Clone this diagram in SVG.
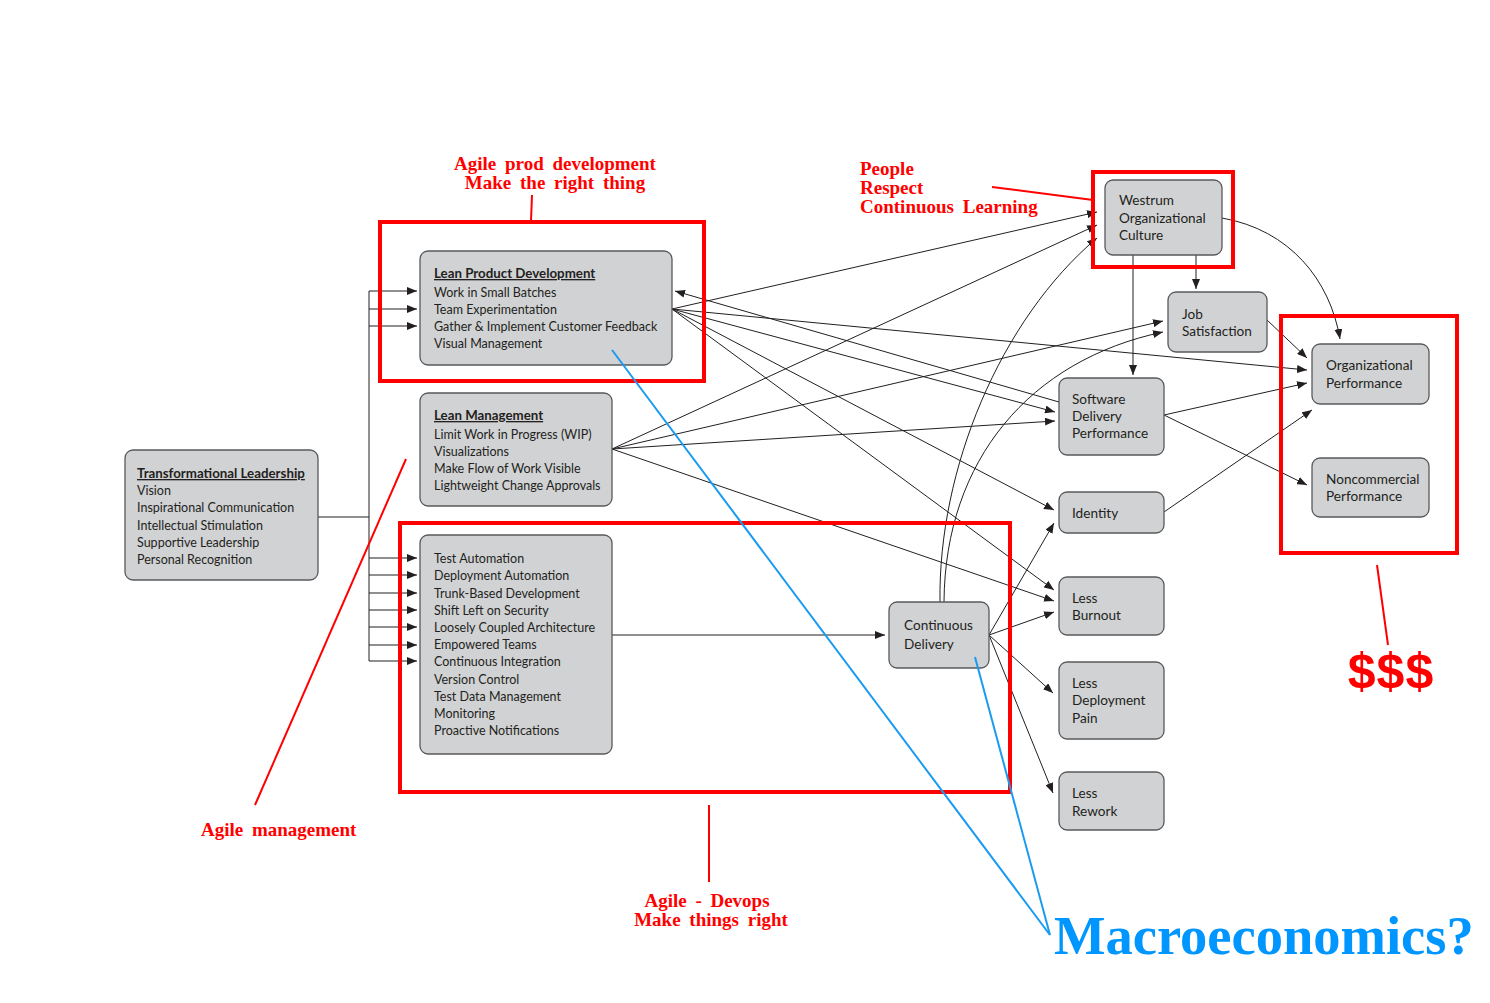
<svg xmlns="http://www.w3.org/2000/svg" width="1490" height="1003" viewBox="0 0 1490 1003">
<style>
.node rect{fill:#d1d2d4;stroke:#58595b;stroke-width:1.3}
.node text{font-family:Lato,"Open Sans",sans-serif;fill:#231f20}
.list{font-size:12.5px}
.ttl{font-size:13.3px;font-weight:bold;text-decoration:underline}
.big{font-size:13.6px}
.conn line,.conn path,.conn polyline{stroke:#231f20;stroke-width:1;fill:none}
.red{stroke:#ff0000;fill:none}
.rtxt{font-family:"Liberation Serif",serif;font-weight:bold;font-size:19px;fill:#ff0000;word-spacing:4px}
.blue{stroke:#1a9bf0;stroke-width:2;fill:none}
</style>
<defs>
<marker id="ah" markerUnits="userSpaceOnUse" markerWidth="10" markerHeight="8" refX="10" refY="4" orient="auto">
<path d="M0,0 L10,4 L0,8 z" fill="#231f20"/>
</marker>
</defs>
<rect width="1490" height="1003" fill="#ffffff"/>

<g id="connectors" class="conn">
<polyline points="318,517 369,517"/>
<line x1="369" y1="291" x2="369" y2="661"/>
<line x1="369" y1="291" x2="417" y2="291" marker-end="url(#ah)"/>
<line x1="369" y1="309" x2="417" y2="309" marker-end="url(#ah)"/>
<line x1="369" y1="326" x2="417" y2="326" marker-end="url(#ah)"/>
<line x1="369" y1="558" x2="417" y2="558" marker-end="url(#ah)"/>
<line x1="369" y1="575" x2="417" y2="575" marker-end="url(#ah)"/>
<line x1="369" y1="593" x2="417" y2="593" marker-end="url(#ah)"/>
<line x1="369" y1="610" x2="417" y2="610" marker-end="url(#ah)"/>
<line x1="369" y1="627" x2="417" y2="627" marker-end="url(#ah)"/>
<line x1="369" y1="645" x2="417" y2="645" marker-end="url(#ah)"/>
<line x1="369" y1="661" x2="417" y2="661" marker-end="url(#ah)"/>
<!-- Lean Product Development -->
<line x1="672" y1="309" x2="1097" y2="212" marker-end="url(#ah)"/>
<line x1="672" y1="309" x2="1307" y2="370" marker-end="url(#ah)"/>
<line x1="672" y1="309" x2="1055" y2="412" marker-end="url(#ah)"/>
<line x1="672" y1="309" x2="1054" y2="510" marker-end="url(#ah)"/>
<line x1="672" y1="309" x2="1054" y2="590" marker-end="url(#ah)"/>
<line x1="1059" y1="402" x2="675" y2="291" marker-end="url(#ah)"/>
<!-- Lean Management -->
<line x1="612" y1="449" x2="1097" y2="225" marker-end="url(#ah)"/>
<line x1="612" y1="449" x2="1163" y2="321" marker-end="url(#ah)"/>
<line x1="612" y1="449" x2="1055" y2="421" marker-end="url(#ah)"/>
<line x1="612" y1="449" x2="1054" y2="601" marker-end="url(#ah)"/>
<!-- CD practices -->
<line x1="612" y1="635" x2="885" y2="635" marker-end="url(#ah)"/>
<!-- Continuous Delivery -->
<path d="M940,602 C938,470 1000,320 1097,238" marker-end="url(#ah)"/>
<path d="M944,602 C945,460 1030,360 1163,332" marker-end="url(#ah)"/>
<line x1="989" y1="635" x2="1054" y2="523" marker-end="url(#ah)"/>
<line x1="989" y1="635" x2="1054" y2="612" marker-end="url(#ah)"/>
<line x1="989" y1="635" x2="1053" y2="693" marker-end="url(#ah)"/>
<line x1="989" y1="635" x2="1053" y2="793" marker-end="url(#ah)"/>
<!-- Westrum -->
<line x1="1133" y1="255" x2="1133" y2="375" marker-end="url(#ah)"/>
<line x1="1196" y1="255" x2="1196" y2="289" marker-end="url(#ah)"/>
<path d="M1222,218 C1290,230 1330,280 1340,339" marker-end="url(#ah)"/>
<!-- to performance -->
<line x1="1267" y1="320" x2="1307" y2="358" marker-end="url(#ah)"/>
<line x1="1164" y1="415" x2="1307" y2="383" marker-end="url(#ah)"/>
<line x1="1164" y1="415" x2="1307" y2="485" marker-end="url(#ah)"/>
<line x1="1164" y1="512" x2="1312" y2="410" marker-end="url(#ah)"/>
</g>

<g id="transformational-leadership" class="node">
<rect x="125" y="450" width="193" height="130" rx="8"/>
<text class="ttl" x="137" y="478">Transformational Leadership</text>
<text class="list" x="137" y="495">Vision</text>
<text class="list" x="137" y="512">Inspirational Communication</text>
<text class="list" x="137" y="530">Intellectual Stimulation</text>
<text class="list" x="137" y="547">Supportive Leadership</text>
<text class="list" x="137" y="564">Personal Recognition</text>
</g>

<g id="lean-product-development" class="node">
<rect x="420" y="251" width="252" height="114" rx="8"/>
<text class="ttl" x="434" y="278">Lean Product Development</text>
<text class="list" x="434" y="297">Work in Small Batches</text>
<text class="list" x="434" y="314">Team Experimentation</text>
<text class="list" x="434" y="331">Gather &amp; Implement Customer Feedback</text>
<text class="list" x="434" y="348">Visual Management</text>
</g>

<g id="lean-management" class="node">
<rect x="420" y="393" width="192" height="113" rx="8"/>
<text class="ttl" x="434" y="420">Lean Management</text>
<text class="list" x="434" y="439">Limit Work in Progress (WIP)</text>
<text class="list" x="434" y="456">Visualizations</text>
<text class="list" x="434" y="473">Make Flow of Work Visible</text>
<text class="list" x="434" y="490">Lightweight Change Approvals</text>
</g>

<g id="cd-practices" class="node">
<rect x="420" y="535" width="192" height="219" rx="8"/>
<text class="list" x="434" y="563">Test Automation</text>
<text class="list" x="434" y="580">Deployment Automation</text>
<text class="list" x="434" y="598">Trunk-Based Development</text>
<text class="list" x="434" y="615">Shift Left on Security</text>
<text class="list" x="434" y="632">Loosely Coupled Architecture</text>
<text class="list" x="434" y="649">Empowered Teams</text>
<text class="list" x="434" y="666">Continuous Integration</text>
<text class="list" x="434" y="684">Version Control</text>
<text class="list" x="434" y="701">Test Data Management</text>
<text class="list" x="434" y="718">Monitoring</text>
<text class="list" x="434" y="735">Proactive Notifications</text>
</g>

<g id="continuous-delivery" class="node">
<rect x="889" y="602" width="100" height="66" rx="8"/>
<text class="big" x="904" y="630">Continuous</text>
<text class="big" x="904" y="649">Delivery</text>
</g>

<g id="westrum" class="node">
<rect x="1105" y="180" width="117" height="75" rx="8"/>
<text class="big" x="1119" y="205">Westrum</text>
<text class="big" x="1119" y="223">Organizational</text>
<text class="big" x="1119" y="240">Culture</text>
</g>

<g id="job-satisfaction" class="node">
<rect x="1168" y="292" width="99" height="60" rx="8"/>
<text class="big" x="1182" y="319">Job</text>
<text class="big" x="1182" y="336">Satisfaction</text>
</g>

<g id="software-delivery-performance" class="node">
<rect x="1059" y="378" width="105" height="77" rx="8"/>
<text class="big" x="1072" y="404">Software</text>
<text class="big" x="1072" y="421">Delivery</text>
<text class="big" x="1072" y="438">Performance</text>
</g>

<g id="identity" class="node">
<rect x="1059" y="492" width="105" height="41" rx="8"/>
<text class="big" x="1072" y="518">Identity</text>
</g>

<g id="less-burnout" class="node">
<rect x="1059" y="577" width="105" height="58" rx="8"/>
<text class="big" x="1072" y="603">Less</text>
<text class="big" x="1072" y="620">Burnout</text>
</g>

<g id="less-deployment-pain" class="node">
<rect x="1059" y="662" width="105" height="77" rx="8"/>
<text class="big" x="1072" y="688">Less</text>
<text class="big" x="1072" y="705">Deployment</text>
<text class="big" x="1072" y="723">Pain</text>
</g>

<g id="less-rework" class="node">
<rect x="1059" y="772" width="105" height="58" rx="8"/>
<text class="big" x="1072" y="798">Less</text>
<text class="big" x="1072" y="816">Rework</text>
</g>

<g id="organizational-performance" class="node">
<rect x="1312" y="344" width="117" height="60" rx="8"/>
<text class="big" x="1326" y="370">Organizational</text>
<text class="big" x="1326" y="388">Performance</text>
</g>

<g id="noncommercial-performance" class="node">
<rect x="1312" y="458" width="117" height="59" rx="8"/>
<text class="big" x="1326" y="484">Noncommercial</text>
<text class="big" x="1326" y="501">Performance</text>
</g>

<g id="annotations">
<rect class="red" x="380" y="222" width="324" height="159" stroke-width="4"/>
<rect class="red" x="1093" y="172" width="140" height="95" stroke-width="4"/>
<rect class="red" x="1281" y="316" width="176" height="237" stroke-width="4"/>
<rect class="red" x="400" y="523" width="610" height="269" stroke-width="4"/>
<line class="red" x1="532" y1="195" x2="531" y2="221" stroke-width="2"/>
<line class="red" x1="992" y1="187" x2="1093" y2="200" stroke-width="2"/>
<line class="red" x1="1377" y1="565" x2="1388" y2="645" stroke-width="2"/>
<line class="red" x1="406" y1="459" x2="255" y2="805" stroke-width="2"/>
<line class="red" x1="709" y1="805" x2="709" y2="882" stroke-width="2"/>
<text class="rtxt" x="555" y="170" text-anchor="middle">Agile prod development</text>
<text class="rtxt" x="555" y="189" text-anchor="middle">Make the right thing</text>
<text class="rtxt" x="860" y="175">People</text>
<text class="rtxt" x="860" y="194">Respect</text>
<text class="rtxt" x="860" y="213">Continuous Learning</text>
<text class="rtxt" x="201" y="836" word-spacing="6">Agile management</text>
<text class="rtxt" x="707" y="907" text-anchor="middle">Agile - Devops</text>
<text class="rtxt" x="711" y="926" text-anchor="middle">Make things right</text>
<text x="1391" y="688" text-anchor="middle" font-family="'Liberation Sans',sans-serif" font-weight="bold" font-size="50" fill="#ff0000" letter-spacing="1">$$$</text>
<line class="blue" x1="612" y1="350" x2="1050" y2="935"/>
<line class="blue" x1="975" y1="657" x2="1050" y2="935"/>
<text x="1054" y="954" font-family="'Liberation Serif',serif" font-weight="bold" font-size="54.5" fill="#0096ff">Macroeconomics?</text>
</g>
</svg>
